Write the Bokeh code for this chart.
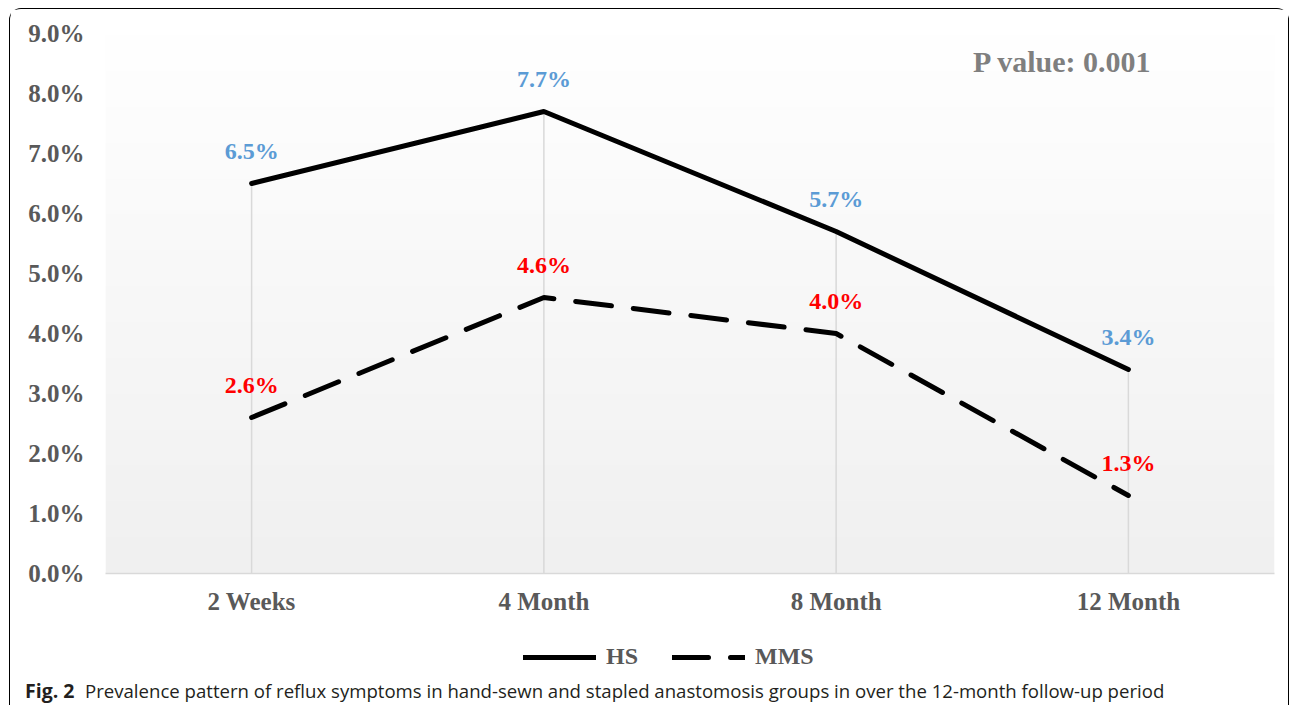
import numpy as np
from bokeh.plotting import figure
from bokeh.layouts import column
from bokeh.models import FixedTicker, Label, Range1d
from bokeh.core.properties import value
from bokeh.embed import file_html
from bokeh.resources import INLINE

# ---- data ----
categories = ["2 Weeks", "4 Month", "8 Month", "12 Month"]
hs_values = [6.5, 7.7, 5.7, 3.4]
mms_values = [2.6, 4.6, 4.0, 1.3]
y_ticks = [0, 1, 2, 3, 4, 5, 6, 7, 8, 9]
y_tick_labels = ["0.0%", "1.0%", "2.0%", "3.0%", "4.0%", "5.0%", "6.0%", "7.0%", "8.0%", "9.0%"]
series_names = ["HS", "MMS"]
p_value_text = "P value: 0.001"
caption_bold = "Fig. 2"
caption_rest = ("Prevalence pattern of reflux symptoms in hand-sewn and stapled "
                "anastomosis groups in over the 12-month follow-up period")

x_pos = list(range(len(categories)))
SERIF = "Liberation Serif"
SANS = "Open Sans"
HS_STYLE = dict(line_color="black", line_width=5, line_cap="round")
MMS_STYLE = dict(line_color="black", line_width=5, line_dash="36 22", line_cap="round")

# ---------------- main chart ----------------
p = figure(width=1278, height=610, output_backend="svg", toolbar_location=None,
           x_range=Range1d(-0.5, len(categories) - 0.5), y_range=Range1d(0, 9),
           min_border_left=95, min_border_right=14, min_border_top=24, min_border_bottom=46)
p.frame_align = False
p.outline_line_color = None
p.background_fill_color = "white"
p.border_fill_color = "white"
p.xgrid.visible = False
p.ygrid.visible = False

# gradient background of plot area
n = 256
t = np.linspace(0, 1, n)
shade = (240 + (255 - 240) * t).astype(np.uint8)
img = np.empty((n, 1), dtype=np.uint32)
view = img.view(dtype=np.uint8).reshape((n, 1, 4))
view[:, 0, 0] = shade
view[:, 0, 1] = shade
view[:, 0, 2] = shade
view[:, 0, 3] = 255
p.image_rgba(image=[img], x=-0.5, y=0, dw=len(categories), dh=9)

# drop lines
drop_top = [max(a, b) for a, b in zip(hs_values, mms_values)]
p.segment(x0=x_pos, y0=[0] * len(x_pos), x1=x_pos, y1=drop_top,
          line_color="#d9d9d9", line_width=1.5)

# series lines
p.line(x_pos, hs_values, **HS_STYLE)
p.line(x_pos, mms_values, **MMS_STYLE)

# data labels
p.text(x=x_pos, y=hs_values, text=[f"{v:.1f}%" for v in hs_values], y_offset=-33,
       text_align="center", text_baseline="middle", text_font=value(SERIF),
       text_font_style="bold", text_font_size="24px", text_color="#5B9BD5")
p.text(x=x_pos, y=mms_values, text=[f"{v:.1f}%" for v in mms_values], y_offset=-33,
       text_align="center", text_baseline="middle", text_font=value(SERIF),
       text_font_style="bold", text_font_size="24px", text_color="#FF0000")

# axes
p.xaxis.ticker = FixedTicker(ticks=x_pos)
p.xaxis.major_label_overrides = {i: c for i, c in zip(x_pos, categories)}
p.xaxis.axis_line_color = "#d9d9d9"
p.xaxis.axis_line_width = 1.5
p.xaxis.major_tick_line_color = None
p.xaxis.minor_tick_line_color = None
p.xaxis.major_label_standoff = 8
p.yaxis.ticker = FixedTicker(ticks=y_ticks)
p.yaxis.major_label_overrides = {v: l for v, l in zip(y_ticks, y_tick_labels)}
p.yaxis.axis_line_color = None
p.yaxis.major_tick_line_color = None
p.yaxis.minor_tick_line_color = None
p.yaxis.major_label_standoff = 15
for ax in (p.xaxis[0], p.yaxis[0]):
    ax.major_label_text_font = SERIF
    ax.major_label_text_font_style = "bold"
    ax.major_label_text_font_size = "25px"
    ax.major_label_text_color = "#595959"

# P value annotation
p.add_layout(Label(x=2.775, y=8.53, text=p_value_text, text_align="center",
                   text_baseline="middle", text_font=SERIF, text_font_style="bold",
                   text_font_size="30px", text_color="#7f7f7f"))

# ---------------- legend + caption strip ----------------
q = figure(width=1278, height=86, output_backend="svg", toolbar_location=None,
           x_range=Range1d(0, 1), y_range=Range1d(0, 1),
           x_axis_location=None, y_axis_location=None,
           min_border_left=0, min_border_right=0, min_border_top=0, min_border_bottom=0)
q.frame_align = False
q.outline_line_color = None
q.xgrid.visible = False
q.ygrid.visible = False
# legend-only renderers (no visible data), styled like the series
q.line(x=[np.nan], y=[np.nan], legend_label=series_names[0], **HS_STYLE)
q.line(x=[np.nan], y=[np.nan], legend_label=series_names[1], **MMS_STYLE)
lg = q.legend[0]
lg.location = (513, 35)
lg.orientation = "horizontal"
lg.glyph_width = 73
lg.label_standoff = 10
lg.spacing = 34
lg.padding = 0
lg.margin = 0
lg.background_fill_alpha = 0
lg.border_line_alpha = 0
lg.label_text_font = SERIF
lg.label_text_font_style = "bold"
lg.label_text_font_size = "24px"
lg.label_text_color = "#595959"

q.add_layout(Label(x=14.5, y=15, x_units="screen", y_units="screen", text=caption_bold,
                   text_font=SANS, text_font_style="bold", text_font_size="19.5px",
                   text_color="#231f20", text_baseline="alphabetic"))
q.add_layout(Label(x=74.5, y=15, x_units="screen", y_units="screen", text=caption_rest,
                   text_font=SANS, text_font_size="18.6px", text_color="#231f20",
                   text_baseline="alphabetic"))

layout = column(p, q, spacing=0, margin=(8, 0, 0, 9),
                styles={"border": "1.5px solid black", "border-bottom": "none",
                        "border-radius": "12px 12px 0 0"})

open("out.html", "w").write(file_html(layout, INLINE))
